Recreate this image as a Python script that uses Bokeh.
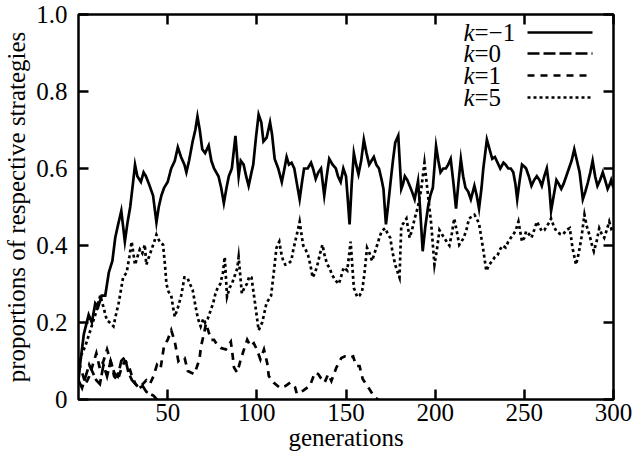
from bokeh.plotting import figure
from bokeh.models import (Range1d, FixedTicker, LinearAxis, CustomJSTickFormatter,
                          Label, Arrow, ColumnDataSource)
from bokeh.embed import file_html
from bokeh.resources import INLINE

# ---------------- data ----------------
series_names = ["k=-1", "k=0", "k=1", "k=5"]

k_m1 = [(0,0.05),(1,0.095),(3,0.17),(5.7,0.22),(7.5,0.2),(9.4,0.25),(11,0.24),(13,0.27),(15,0.27),(17,0.33),
        (19,0.36),(20.6,0.42),(22,0.45),(24,0.49),(26,0.41),(27.5,0.46),(29,0.5),(30.5,0.56),(31.7,0.61),(33,0.58),
        (35,0.565),(36.5,0.59),(37.8,0.58),(39.5,0.56),(41.8,0.53),(43.7,0.46),(45,0.5),(46.5,0.53),(48,0.55),(50,0.565),
        (52,0.6),(54,0.62),(55.7,0.655),(57.5,0.63),(59.4,0.61),(60.5,0.59),(62,0.62),(64,0.67),(65.5,0.7),(66.7,0.735),
        (68,0.7),(69.4,0.65),(71,0.64),(73,0.66),(74.5,0.62),(76,0.6),(78.5,0.58),(80,0.55),(81.5,0.51),(83,0.55),
        (84.3,0.58),(86,0.6),(88,0.685),(89.8,0.58),(91,0.62),(92.6,0.61),(94,0.58),(95.4,0.555),(97,0.59),(98,0.61),
        (99.5,0.68),(101,0.74),(102.5,0.72),(103.7,0.67),(105.5,0.68),(107.4,0.72),(108.5,0.69),(110,0.625),(112,0.6),(114,0.565),
        (115.5,0.6),(116.7,0.63),(118,0.61),(119.5,0.615),(121,0.6),(122,0.573),(124,0.52),(125.5,0.57),(126.5,0.6),(128.5,0.6),
        (130.4,0.615),(131.5,0.6),(133,0.573),(134.5,0.59),(136,0.6),(137.8,0.53),(139.2,0.58),(140.6,0.625),(142.5,0.61),(144.3,0.6),
        (145.5,0.58),(147,0.565),(148.5,0.6),(150,0.58),(151,0.52),(152,0.455),(153.2,0.56),(154.4,0.64),(155.7,0.61),(157,0.585),
        (158.5,0.62),(160,0.675),(161.5,0.64),(163,0.61),(164.3,0.62),(165.6,0.63),(167,0.61),(168.5,0.6),(170,0.57),(171,0.547),
        (172.4,0.455),(173.5,0.5),(175,0.565),(176.3,0.62),(177.6,0.667),(179.3,0.685),(181,0.547),(182,0.56),(183,0.58),(184.4,0.57),
        (185.7,0.555),(187,0.54),(188.5,0.52),(190.4,0.567),(191.5,0.5),(193,0.385),(194.5,0.45),(196,0.5),(197.3,0.53),(198.7,0.55),
        (200.5,0.658),(201.8,0.62),(203,0.59),(204.5,0.6),(206,0.6),(207.3,0.61),(208.7,0.625),(210.3,0.56),(211.7,0.496),(213,0.56),
        (214.4,0.625),(215.7,0.58),(217,0.55),(218.5,0.54),(220,0.52),(222,0.555),(223.3,0.53),(224.6,0.496),(226,0.55),(227,0.6),
        (229,0.675),(230.5,0.65),(232,0.625),(233.5,0.63),(235,0.615),(236.5,0.6),(238.3,0.615),(239.5,0.61),(241,0.6),(242.4,0.6),
        (243.8,0.59),(245,0.56),(246,0.52),(247.4,0.57),(248.7,0.61),(250,0.605),(251,0.6),(252.5,0.58),(254,0.555),(255.5,0.57),
        (257,0.58),(258.5,0.57),(259.8,0.555),(261.2,0.58),(262.6,0.6),(264,0.55),(265,0.49),(266.5,0.53),(268,0.57),(269.3,0.56),
        (270.7,0.547),(272,0.56),(273.5,0.58),(275,0.6),(276.5,0.62),(278,0.65),(279.5,0.62),(281,0.59),(282.8,0.52),(284.2,0.54),
        (285.6,0.563),(287,0.59),(288.3,0.62),(289.7,0.58),(291,0.555),(292.5,0.57),(294,0.59),(295.3,0.57),(296.7,0.547),(298,0.56),
        (298.7,0.57),(300,0.55)]

k_0 = [(0,0.05),(2,0.03),(4,0.06),(6,0.09),(8,0.07),(10,0.05),(12,0.04),(14,0.09),(16,0.06),(18,0.10),
       (20,0.07),(22,0.06),(24,0.10),(26,0.11),(28,0.07),(30,0.05),(32,0.04),(34,0.03),(36,0.035),(38,0.02),
       (40,0.015),(42,0.01),(44,0.0)]

k_1 = [(0,0.10),(2,0.07),(4,0.04),(6,0.06),(8,0.09),(10,0.12),(12,0.08),(14,0.10),(16,0.13),(18,0.10),
       (20,0.06),(22,0.05),(24,0.08),(26,0.10),(28,0.09),(30,0.06),(32,0.04),(34,0.03),(36,0.04),(38,0.05),
       (40,0.04),(42,0.06),(44,0.09),(46,0.08),(48,0.14),(50,0.155),(52,0.18),(54,0.15),(56,0.10),(57.6,0.108),
       (59.5,0.108),(61.3,0.074),(63,0.07),(65,0.066),(67.8,0.104),(68.7,0.138),(70.6,0.176),(71.5,0.198),(74.3,0.155),(76,0.155),
       (78,0.14),(79.8,0.134),(82.6,0.13),(85.4,0.15),(86.3,0.12),(87.2,0.083),(89,0.07),(91,0.104),(92.8,0.13),(94.6,0.155),
       (96.5,0.138),(98.3,0.146),(100,0.13),(102,0.104),(104,0.13),(105.8,0.095),(106.7,0.061),(109.4,0.044),(113,0.03),(116,0.035),
       (118.7,0.044),(121.5,0.031),(122.4,0.015),(126,0.023),(129.8,0.036),(132.6,0.07),(134.4,0.066),(136,0.055),(138,0.044),(140,0.066),
       (141.8,0.048),(144.6,0.083),(147.4,0.108),(149.3,0.112),(152,0.108),(154,0.112),(155.7,0.087),(157.6,0.087),(159.4,0.053),(163.1,0.027),
       (166,0.006),(168,0.0)]

k_5 = [(0,0.1),(2,0.12),(3.9,0.14),(6,0.17),(8,0.2),(9.4,0.22),(11,0.25),(12.2,0.27),(14,0.24),(15.9,0.206),
       (17.5,0.2),(19.6,0.19),(21,0.22),(22.5,0.25),(24,0.29),(25,0.317),(27,0.33),(28.5,0.37),(29.8,0.41),(31.7,0.35),
       (33,0.37),(34.4,0.39),(35.8,0.38),(37.2,0.402),(38,0.35),(39.5,0.37),(41,0.39),(42.5,0.41),(43.7,0.428),(45.5,0.41),
       (47.4,0.402),(48.5,0.35),(49.3,0.3),(50.5,0.28),(52,0.27),(53,0.24),(54,0.215),(55.8,0.24),(57.6,0.27),(59.4,0.317),
       (61,0.317),(62.5,0.3),(64,0.285),(65.7,0.24),(67,0.21),(68.5,0.19),(70,0.21),(71,0.2),(72.5,0.21),(74,0.23),
       (75.5,0.25),(76.8,0.275),(78,0.29),(79.5,0.3),(81,0.33),(82,0.37),(83.3,0.267),(84.7,0.29),(86,0.3),(87.5,0.32),
       (89,0.34),(89.8,0.37),(91.6,0.275),(93,0.29),(94.4,0.3),(95.8,0.32),(97,0.317),(99,0.25),(101,0.18),(103,0.2),
       (104,0.22),(105.4,0.25),(106.7,0.26),(108,0.27),(109.5,0.33),(111,0.394),(112.6,0.41),(113.7,0.38),(114.8,0.36),(116,0.35),
       (117.5,0.352),(119.3,0.36),(120.5,0.39),(122,0.42),(123,0.44),(124,0.462),(125,0.43),(126,0.4),(127.3,0.39),(128.7,0.375),
       (130,0.35),(131.3,0.317),(132.7,0.33),(134,0.35),(135.5,0.38),(136.8,0.402),(138.2,0.37),(139.6,0.35),(141,0.34),(142,0.325),
       (144,0.31),(146,0.3),(147.3,0.32),(148.7,0.343),(150.7,0.335),(151.6,0.37),(152.6,0.41),(153.5,0.35),(154.4,0.29),(156.3,0.266),
       (157.6,0.27),(159,0.28),(160.4,0.33),(161.8,0.394),(163.2,0.38),(164.6,0.36),(166,0.38),(167.4,0.4),(168.7,0.42),(170,0.437),
       (172,0.445),(173.4,0.43),(174.8,0.42),(176.2,0.38),(177.6,0.35),(179,0.33),(180,0.317),(181,0.45),(182.5,0.46),(183.9,0.47),
       (185.7,0.42),(187,0.44),(188.5,0.47),(190.3,0.5),(192.2,0.547),(194,0.615),(196,0.53),(197.8,0.455),(199.6,0.35),(201,0.39),
       (202.4,0.44),(203.7,0.43),(205,0.42),(206.5,0.41),(208,0.4),(209.3,0.43),(210.7,0.47),(212,0.44),(213.5,0.402),(214.7,0.41),
       (216,0.42),(217.5,0.44),(219,0.47),(220.5,0.475),(222,0.48),(223.3,0.47),(224.6,0.457),(226.8,0.394),(228.7,0.334),(230.3,0.35),
       (232,0.36),(233.5,0.37),(235,0.375),(236.4,0.39),(237.8,0.4),(239.5,0.395),(241,0.41),(242.4,0.42),(243.8,0.428),(245.2,0.44),
       (246.7,0.462),(248.7,0.41),(250,0.42),(251,0.437),(252.5,0.43),(254,0.42),(255.5,0.44),(257,0.462),(258.4,0.45),(259.8,0.437),
       (261.2,0.44),(262.6,0.45),(264,0.46),(265,0.47),(266.5,0.45),(268,0.437),(270,0.43),(271.7,0.428),(273.5,0.44),(275.5,0.445),
       (277,0.394),(279,0.35),(280.5,0.38),(282,0.42),(283.7,0.48),(285,0.45),(286.5,0.428),(288,0.4),(289,0.385),(290.5,0.41),
       (292,0.445),(293.4,0.43),(294.8,0.42),(296.2,0.44),(297.6,0.462),(299,0.44),(300,0.437)]

x_ticks = [50, 100, 150, 200, 250, 300]
y_ticks = [0, 0.2, 0.4, 0.6, 0.8, 1.0]
x_label = "generations"
y_label = "proportions of respective strategies"
legend_values = ["\u22121", "0", "1", "5"]

# ---------------- figure ----------------
FONT = "Liberation Serif"
FS = "25px"

p = figure(width=632, height=461, x_range=Range1d(0, 300), y_range=Range1d(0, 1),
           output_backend="svg", toolbar_location=None,
           min_border_left=73, min_border_right=19, min_border_top=14, min_border_bottom=62,
           background_fill_color="white", border_fill_color="white")
p.grid.visible = False
p.outline_line_color = "black"
p.outline_line_width = 2.5
p.outline_line_alpha = 1.0

styles = [dict(line_dash="solid"), dict(line_dash="12 4"), dict(line_dash="7 6"), dict(line_dash="3 3")]
for data, st in zip([k_m1, k_0, k_1, k_5], styles):
    src = ColumnDataSource(dict(x=[d[0] for d in data], y=[d[1] for d in data]))
    p.line("x", "y", source=src, line_color="black", line_width=2.7, line_join="miter", **st)

def style_axis(ax, ticks, show_labels):
    ax.ticker = FixedTicker(ticks=ticks)
    ax.axis_line_color = None
    ax.major_tick_in = 10
    ax.major_tick_out = 0
    ax.major_tick_line_width = 2.5
    ax.major_tick_line_color = "black"
    ax.minor_tick_line_color = None
    ax.major_label_text_font = FONT
    ax.major_label_text_color = "black"
    if show_labels:
        ax.major_label_text_font_size = FS
    else:
        ax.major_label_text_font_size = "0px"
        ax.major_label_standoff = 0
        ax.formatter = CustomJSTickFormatter(code="return ''")

xa = p.xaxis[0]
style_axis(xa, x_ticks, True)
xa.major_label_standoff = 4
xa.axis_label = x_label
xa.axis_label_standoff = 0

ya = p.yaxis[0]
style_axis(ya, y_ticks, True)
ya.major_label_standoff = 11
ya.formatter = CustomJSTickFormatter(code="return tick == 0 ? '0' : tick.toFixed(1);")
ya.axis_label = y_label
ya.axis_label_standoff = 3

for ax in (xa, ya):
    ax.axis_label_text_font = FONT
    ax.axis_label_text_font_size = FS
    ax.axis_label_text_font_style = "normal"
    ax.axis_label_text_color = "black"

top = LinearAxis()
style_axis(top, x_ticks, False)
p.add_layout(top, "above")
right = LinearAxis()
style_axis(right, y_ticks, False)
p.add_layout(right, "right")

# ---------------- legend (label left, sample right) ----------------
row_y = [367, 346, 324, 302]          # screen offsets from frame bottom
for val, st, ry in zip(legend_values, styles, row_y):
    p.add_layout(Label(x=385, y=ry, x_units="screen", y_units="screen", text="k",
                       text_font=FONT, text_font_size=FS, text_font_style="italic",
                       text_baseline="middle", text_align="left", text_color="black"))
    p.add_layout(Label(x=396, y=ry, x_units="screen", y_units="screen", text="=" + val,
                       text_font=FONT, text_font_size=FS, text_font_style="normal",
                       text_baseline="middle", text_align="left", text_color="black"))
    p.add_layout(Arrow(x_start=449, y_start=ry, x_end=514, y_end=ry,
                       start_units="screen", end_units="screen", start=None, end=None,
                       line_color="black", line_width=2.7, line_dash=st["line_dash"]))

open("out.html", "w").write(file_html(p, INLINE))
